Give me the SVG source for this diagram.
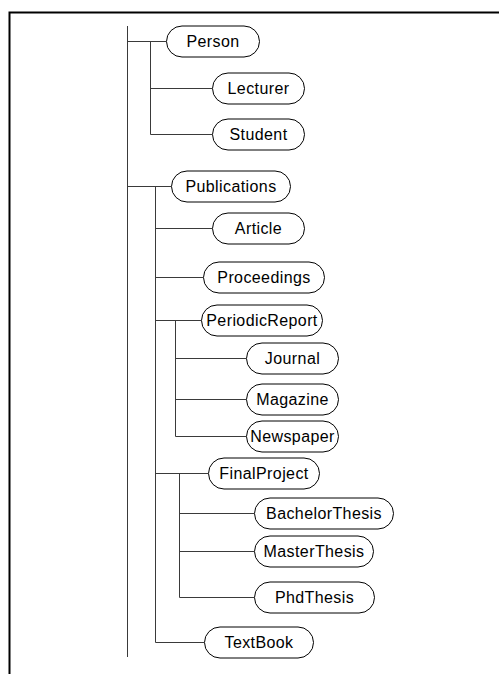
<svg xmlns="http://www.w3.org/2000/svg" width="499" height="674" viewBox="0 0 499 674">
<style>
.frame{stroke:#000;stroke-width:2;fill:none}
.c{stroke:#3a3a3a;stroke-width:1;fill:none}
.n rect{fill:#fff;stroke:#000;stroke-width:1}
.n text{font-family:"Liberation Sans",Arial,sans-serif;font-size:16px;letter-spacing:0.4px;text-anchor:middle;fill:#000}
</style>
<rect width="499" height="674" fill="#fff"/>
<path class="frame" d="M9.5,674 V12.5 H499"/>
<g id="connectors">
<path class="c" d="M127.5,26 V657"/>
<path class="c" d="M127.5,41.5 H166 M150.5,41.5 V134.5 M150.5,88.5 H212 M150.5,134.5 H212"/>
<path class="c" d="M127.5,186.5 H171 M155.5,186.5 V642.5 M155.5,228.5 H212 M155.5,277.5 H203 M155.5,320.5 H201 M155.5,473.5 H208 M155.5,642.5 H204"/>
<path class="c" d="M175.5,320.5 V436.5 M175.5,358.5 H246 M175.5,399.5 H246 M175.5,436.5 H246"/>
<path class="c" d="M179.5,473.5 V597.5 M179.5,513.5 H254 M179.5,551.5 H254 M179.5,597.5 H254"/>
</g>
<g id="Person" class="n"><rect x="166.5" y="26" width="93" height="31" rx="15.5"/><text x="213" y="47.3">Person</text></g>
<g id="Lecturer" class="n"><rect x="212.5" y="73" width="92" height="31" rx="15.5"/><text x="258.5" y="94.3">Lecturer</text></g>
<g id="Student" class="n"><rect x="212.5" y="119" width="92" height="31" rx="15.5"/><text x="258.5" y="140.3">Student</text></g>
<g id="Publications" class="n"><rect x="171.5" y="171" width="119" height="31" rx="15.5"/><text x="231" y="192.3">Publications</text></g>
<g id="Article" class="n"><rect x="212.5" y="213" width="92" height="31" rx="15.5"/><text x="258.5" y="234.3">Article</text></g>
<g id="Proceedings" class="n"><rect x="203.5" y="262" width="121" height="31" rx="15.5"/><text x="264" y="283.3">Proceedings</text></g>
<g id="PeriodicReport" class="n"><rect x="201.5" y="305" width="121" height="31" rx="15.5"/><text x="262" y="326.3">PeriodicReport</text></g>
<g id="Journal" class="n"><rect x="246.5" y="343" width="92" height="31" rx="15.5"/><text x="292.5" y="364.3">Journal</text></g>
<g id="Magazine" class="n"><rect x="246.5" y="384" width="92" height="31" rx="15.5"/><text x="292.5" y="405.3">Magazine</text></g>
<g id="Newspaper" class="n"><rect x="246.5" y="421" width="92" height="31" rx="15.5"/><text x="292.5" y="442.3">Newspaper</text></g>
<g id="FinalProject" class="n"><rect x="208.5" y="458" width="111" height="31" rx="15.5"/><text x="264" y="479.3">FinalProject</text></g>
<g id="BachelorThesis" class="n"><rect x="254.5" y="498" width="139" height="31" rx="15.5"/><text x="324" y="519.3">BachelorThesis</text></g>
<g id="MasterThesis" class="n"><rect x="254.5" y="536" width="119" height="31" rx="15.5"/><text x="314" y="557.3">MasterThesis</text></g>
<g id="PhdThesis" class="n"><rect x="254.5" y="582" width="120" height="31" rx="15.5"/><text x="314.5" y="603.3">PhdThesis</text></g>
<g id="TextBook" class="n"><rect x="204.5" y="627" width="109" height="31" rx="15.5"/><text x="259" y="648.3">TextBook</text></g>
</svg>
